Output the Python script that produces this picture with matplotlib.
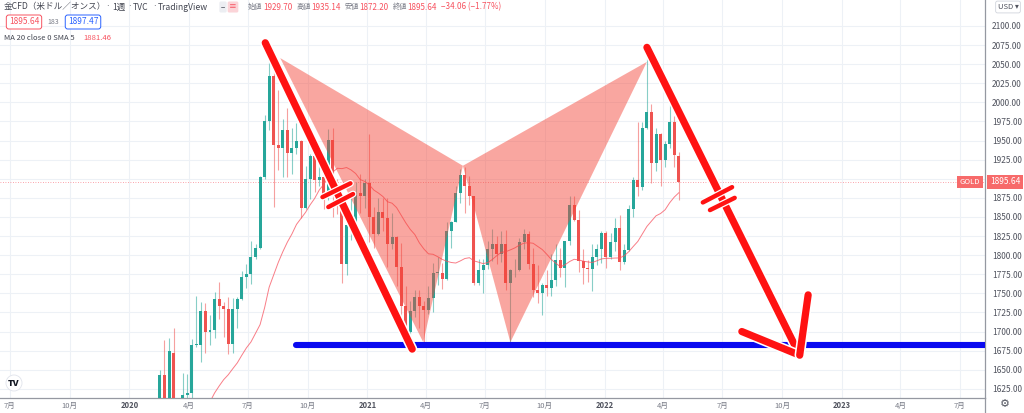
import matplotlib
matplotlib.use("Agg")
import matplotlib.dates as mdates
import matplotlib.patheffects as pe
import matplotlib.pyplot as plt
import numpy as np
import pandas as pd
from matplotlib.lines import Line2D

plt.rcParams["font.family"] = ["Noto Sans CJK JP", "DejaVu Sans"]

# weekly gold candles (TVC:GOLD), one entry per week starting Monday
FIRST_WEEK = "2019-09-02"
OPENS = [
    # 2019
    1529, 1507, 1488, 1517, 1497, 1505, 1489, 1490, 1505, 1514, 1459, 1468, 1462, 1464, 1460, 1476, 1479, 1511,
    # 2020
    1552, 1562, 1557, 1571, 1589, 1570, 1584, 1643, 1587, 1672, 1530, 1498, 1617, 1620, 1683, 1683, 1727, 1700,
    1702, 1743, 1734, 1730, 1684, 1730, 1743, 1771, 1775, 1798, 1810, 1902, 1975, 2035, 1944, 1940, 1964, 1934,
    1940, 1950, 1862, 1900, 1930, 1899, 1902, 1879, 1951, 1889, 1871, 1788, 1839, 1839, 1881, 1877,
    # 2021
    1895, 1850, 1828, 1856, 1848, 1814, 1824, 1784, 1734, 1700, 1727, 1745, 1733, 1728, 1744, 1777, 1777, 1769,
    1831, 1844, 1881, 1905, 1891, 1877, 1764, 1781, 1787, 1808, 1815, 1802, 1814, 1763, 1780, 1781, 1817, 1828,
    1788, 1754, 1750, 1761, 1757, 1768, 1793, 1783, 1818, 1865, 1846, 1792, 1783, 1782, 1798, 1808,
    # 2022
    1829, 1797, 1817, 1835, 1791, 1807, 1860, 1898, 1889, 1966, 1988, 1921, 1958, 1925, 1945, 1974, 1929.70,
]
HIGHS = [
    1557, 1522, 1523, 1535, 1519, 1517, 1497, 1512, 1517, 1515, 1474, 1479, 1464, 1485, 1479, 1485, 1513, 1553,
    1611, 1563, 1574, 1591, 1592, 1584, 1649, 1689, 1692, 1704, 1557, 1646, 1645, 1690, 1747, 1739, 1738, 1722,
    1752, 1765, 1739, 1745, 1744, 1745, 1779, 1789, 1818, 1815, 1904, 1984, 2075, 2049, 2016, 1978, 1992, 1966,
    1973, 1951, 1917, 1932, 1933, 1933, 1910, 1965, 1966, 1900, 1875, 1848, 1875, 1896, 1906, 1900,
    1959, 1863, 1875, 1875, 1875, 1855, 1825, 1816, 1760, 1740, 1755, 1755, 1740, 1759, 1790, 1798, 1790, 1843,
    1845, 1890, 1913, 1916, 1903, 1878, 1795, 1795, 1818, 1834, 1825, 1832, 1833, 1782, 1795, 1823, 1834, 1831,
    1809, 1787, 1764, 1781, 1801, 1814, 1810, 1818, 1877, 1877, 1859, 1808, 1793, 1814, 1815, 1831,
    1831, 1829, 1848, 1853, 1815, 1865, 1902, 1974, 1974, 2070, 1998, 1966, 1960, 1950, 1998, 1982, 1935.14,
]
LOWS = [
    1503, 1484, 1485, 1485, 1459, 1474, 1475, 1483, 1486, 1456, 1445, 1456, 1452, 1457, 1456, 1472, 1477, 1508,
    1535, 1536, 1546, 1563, 1548, 1560, 1580, 1563, 1576, 1504, 1451, 1485, 1567, 1612, 1680, 1660, 1672, 1683,
    1692, 1717, 1693, 1670, 1672, 1705, 1741, 1757, 1762, 1795, 1808, 1900, 1964, 1863, 1911, 1902, 1902, 1906,
    1932, 1848, 1860, 1873, 1883, 1890, 1860, 1872, 1850, 1854, 1764, 1774, 1820, 1831, 1855, 1862,
    1817, 1809, 1826, 1831, 1785, 1808, 1760, 1717, 1687, 1676, 1719, 1705, 1684, 1723, 1725, 1761, 1756, 1768,
    1809, 1843, 1868, 1855, 1866, 1761, 1761, 1750, 1782, 1792, 1789, 1791, 1754, 1684, 1772, 1779, 1808, 1782,
    1745, 1738, 1721, 1746, 1746, 1760, 1771, 1758, 1813, 1845, 1778, 1762, 1765, 1753, 1787, 1790,
    1783, 1795, 1805, 1781, 1788, 1806, 1850, 1878, 1885, 1965, 1895, 1910, 1890, 1915, 1940, 1915, 1872.20,
]
CLOSES = [
    1507, 1488, 1517, 1497, 1505, 1489, 1490, 1505, 1514, 1459, 1468, 1462, 1464, 1460, 1476, 1479, 1511, 1552,
    1562, 1557, 1571, 1589, 1570, 1584, 1643, 1585, 1674, 1530, 1498, 1617, 1620, 1683, 1683, 1727, 1700, 1702,
    1743, 1734, 1730, 1684, 1730, 1743, 1771, 1775, 1798, 1810, 1902, 1975, 2035, 1944, 1940, 1964, 1934, 1940,
    1950, 1862, 1900, 1930, 1899, 1902, 1879, 1951, 1889, 1871, 1788, 1839, 1839, 1881, 1877, 1895,
    1850, 1828, 1856, 1848, 1814, 1824, 1784, 1734, 1700, 1727, 1745, 1733, 1728, 1744, 1777, 1777, 1769, 1831,
    1844, 1881, 1905, 1891, 1877, 1764, 1781, 1787, 1808, 1815, 1802, 1814, 1763, 1780, 1781, 1817, 1828, 1788,
    1754, 1750, 1761, 1757, 1768, 1793, 1783, 1818, 1865, 1846, 1792, 1783, 1782, 1798, 1808, 1829,
    1797, 1817, 1835, 1791, 1807, 1860, 1898, 1889, 1966, 1988, 1921, 1958, 1925, 1945, 1974, 1931, 1895.64,
]
MA_LEN = 20

# hand-drawn annotations on the chart (date, price)
PATTERN_DATES = ["2020-08-20", "2021-03-28", "2021-05-28", "2021-08-09", "2022-03-07"]
PATTERN_PRICES = [2058, 1686, 1917, 1686, 2053]
SUPPORT_START = "2020-09-13"
SUPPORT_PRICE = 1683
ARROW1_DATES = ["2020-07-28", "2021-03-11"]
ARROW1_PRICES = [2078, 1677]
ARROW2_DATES = ["2022-03-07", "2022-10-28"]
ARROW2_PRICES = [2072, 1669]
HEAD_DATES = ["2022-07-31", "2022-10-28", "2022-11-10"]
HEAD_PRICES = [1700, 1669, 1748]
TICKS1_DATES = [["2020-10-24", "2020-12-06"], ["2020-11-02", "2020-12-10"]]
TICKS1_PRICES = [[1876, 1894], [1863, 1880]]
TICKS2_DATES = [["2022-06-01", "2022-07-16"], ["2022-06-12", "2022-07-20"]]
TICKS2_PRICES = [[1869, 1889], [1859, 1875]]

TIME_TICKS = ["2019-07-01", "2019-10-01", "2020-01-01", "2020-04-01", "2020-07-01", "2020-10-01",
              "2021-01-01", "2021-04-01", "2021-07-01", "2021-10-01", "2022-01-01", "2022-04-01",
              "2022-07-01", "2022-10-01", "2023-01-01", "2023-04-01", "2023-07-01"]
TIME_LABELS = ["7月", "10月", "2020", "4月", "7月", "10月", "2021", "4月", "7月", "10月",
               "2022", "4月", "7月", "10月", "2023", "4月", "7月"]
PRICE_TICKS = list(range(1625, 2101, 25))

HEADER_OHLC = [("始値", "1929.70"), ("高値", "1935.14"), ("安値", "1872.20"), ("終値", "1895.64")]
HEADER_CHANGE = "−34.06 (−1.77%)"

UP, DOWN = "#26a69a", "#ef5350"
RED_TXT = "#f7525f"
GREY = "#787b86"
DARK = "#131722"


def d(s):
    return mdates.date2num(pd.Timestamp(s))


def fx(px):
    return px / 1024


def fy(py):
    return 1 - py / 413


def main():
    fig = plt.figure(figsize=(10.24, 4.13), dpi=100)
    ax = fig.add_axes([0, 15 / 413, 985 / 1024, 398 / 413])
    ax.set_xlim(d("2019-06-16"), d("2023-08-09"))
    ax.set_ylim(1613, 2134)

    o = np.array(OPENS, float)
    h = np.array(HIGHS, float)
    lo = np.array(LOWS, float)
    c = np.array(CLOSES, float)
    weeks = pd.date_range(FIRST_WEEK, periods=len(c), freq="7D")
    x = mdates.date2num(weeks)
    up = c >= o

    ax.vlines(x, lo, h, colors=np.where(up, UP, DOWN), linewidth=0.8, alpha=0.55, zorder=2)
    ax.bar(x, np.maximum(np.abs(c - o), 0.8), bottom=np.minimum(o, c), width=4.6,
           color=np.where(up, UP, DOWN), linewidth=0, zorder=3)

    ma = pd.Series(c).rolling(MA_LEN).mean()
    ax.plot(x, ma, color=RED_TXT, linewidth=0.7, alpha=0.75, zorder=4)
    ax.axhline(c[-1], color=RED_TXT, linestyle=(0, (1, 2)), linewidth=0.6, alpha=0.7, zorder=2)

    # harmonic pattern triangles
    px_ = [d(s) for s in PATTERN_DATES]
    ax.fill(px_[0:3], PATTERN_PRICES[0:3], color="#f44336", alpha=0.47, linewidth=0, zorder=5)
    ax.fill(px_[2:5], PATTERN_PRICES[2:5], color="#f44336", alpha=0.47, linewidth=0, zorder=5)

    # support line
    ax.plot([d(SUPPORT_START), d("2023-12-31")], [SUPPORT_PRICE] * 2, color="#0a0af0",
            linewidth=4.4, solid_capstyle="round", zorder=6)

    halo = [pe.Stroke(linewidth=7.5, foreground="white"), pe.Normal()]
    red_kw = dict(color="#ff1212", solid_capstyle="round", zorder=7, path_effects=halo)
    ax.plot([d(s) for s in ARROW1_DATES], ARROW1_PRICES, linewidth=5.2, **red_kw)
    ax.plot([d(s) for s in ARROW2_DATES], ARROW2_PRICES, linewidth=5.2, **red_kw)
    ax.plot([d(HEAD_DATES[0]), d(HEAD_DATES[1])], HEAD_PRICES[0:2], linewidth=5.2, **red_kw)
    ax.plot([d(HEAD_DATES[2]), d(HEAD_DATES[1])], [HEAD_PRICES[2], HEAD_PRICES[1]], linewidth=5.2, **red_kw)
    for ds, ps in zip(TICKS1_DATES + TICKS2_DATES, TICKS1_PRICES + TICKS2_PRICES):
        ax.plot([d(s) for s in ds], ps, linewidth=3.2,
                color="#ff1212", solid_capstyle="round", zorder=8,
                path_effects=[pe.Stroke(linewidth=5, foreground="white"), pe.Normal()])

    # axes styling
    ax.set_xticks([d(s) for s in TIME_TICKS])
    ax.set_xticklabels(TIME_LABELS)
    ax.set_yticks(PRICE_TICKS)
    # the 1900 label sits under the last-price tag
    ax.set_yticklabels(["" if v == 1900 else f"{v:.2f}" for v in PRICE_TICKS])
    ax.yaxis.tick_right()
    ax.tick_params(axis="x", length=0, pad=2.5, labelsize=5.5, colors=GREY)
    ax.tick_params(axis="y", length=0, pad=5, labelsize=6, colors="#50535e")
    for lab in ax.get_xticklabels():
        if lab.get_text().isdigit():
            lab.set_fontweight("bold")
            lab.set_color("#50535e")
    ax.grid(True, color="#edf1f6", linewidth=0.8)
    ax.set_axisbelow(True)
    for side in ("top", "left"):
        ax.spines[side].set_visible(False)
    for side in ("right", "bottom"):
        ax.spines[side].set_color("#9598a1")
        ax.spines[side].set_linewidth(0.9)
    fig.add_artist(Line2D([fx(985), fx(985)], [0, 15 / 413], color="#9598a1", linewidth=0.9))

    # last price labels on the scale
    fig.text(fx(970), fy(182), "GOLD", ha="center", va="center", fontsize=5.5, color="white",
             bbox=dict(boxstyle="square,pad=0.3", fc="#f76a6a", ec="none"))
    fig.text(fx(1005), fy(182), f"{c[-1]:.2f}", ha="center", va="center", fontsize=6, color="white",
             bbox=dict(boxstyle="square,pad=0.3", fc="#f76a6a", ec="none"))
    fig.text(fx(1008), fy(7), "USD ▾", ha="center", va="center", fontsize=5.5, color="#50535e",
             bbox=dict(boxstyle="round,pad=0.25", fc="white", ec="#d1d4dc", linewidth=0.6))
    fig.text(fx(1005), fy(404), "⚙", ha="center", va="center", fontsize=8, color="#50535e")
    fig.text(fx(14), fy(383), "TV", ha="center", va="center", fontsize=6.5, fontweight="heavy",
             color=DARK, bbox=dict(boxstyle="circle,pad=0.25", fc="white", ec="#e0e3eb", linewidth=0.6))

    # header legend
    r = fig.canvas.get_renderer()
    y1 = fy(7)
    for px, s in [(4, "金CFD（米ドル／オンス）"), (105, "·"), (112, "1週"), (127, "·"),
                  (133, "TVC"), (152, "·"), (158, "TradingView")]:
        fig.text(fx(px), y1, s, ha="left", va="center", fontsize=6.2, color="#434651")
    fig.text(fx(223), y1, "−", ha="center", va="center", fontsize=5.5, color="#50535e",
             bbox=dict(boxstyle="round,pad=0.2", fc="#eceef2", ec="none"))
    fig.text(fx(233), y1, "≡", ha="center", va="center", fontsize=5.5, color=RED_TXT,
             bbox=dict(boxstyle="round,pad=0.2", fc="#fbd4d8", ec="none"))
    cur = 248
    for name, val in HEADER_OHLC:
        t = fig.text(fx(cur), y1, name, ha="left", va="center", fontsize=5.2, color=GREY)
        cur += t.get_window_extent(r).width + 0.5
        t = fig.text(fx(cur), y1, val, ha="left", va="center", fontsize=5.8, color=RED_TXT)
        cur += t.get_window_extent(r).width + 4
    fig.text(fx(cur), y1, HEADER_CHANGE, ha="left", va="center", fontsize=5.8, color=RED_TXT)

    y2 = fy(22)
    fig.text(fx(24), y2, "1895.64", ha="center", va="center", fontsize=6, color=RED_TXT,
             bbox=dict(boxstyle="round,pad=0.3", fc="white", ec=RED_TXT, linewidth=0.7))
    fig.text(fx(53), y2, "183", ha="center", va="center", fontsize=5, color=GREY)
    fig.text(fx(83), y2, "1897.47", ha="center", va="center", fontsize=6, color="#2962ff",
             bbox=dict(boxstyle="round,pad=0.3", fc="white", ec="#2962ff", linewidth=0.7))

    y3 = fy(38)
    fig.text(fx(4), y3, "MA 20 close 0 SMA 5", ha="left", va="center", fontsize=5.5, color="#434651")
    fig.text(fx(83), y3, "1881.46", ha="left", va="center", fontsize=5.5, color=RED_TXT)

    fig.savefig("out.png", dpi=100, facecolor="white")


if __name__ == "__main__":
    main()
